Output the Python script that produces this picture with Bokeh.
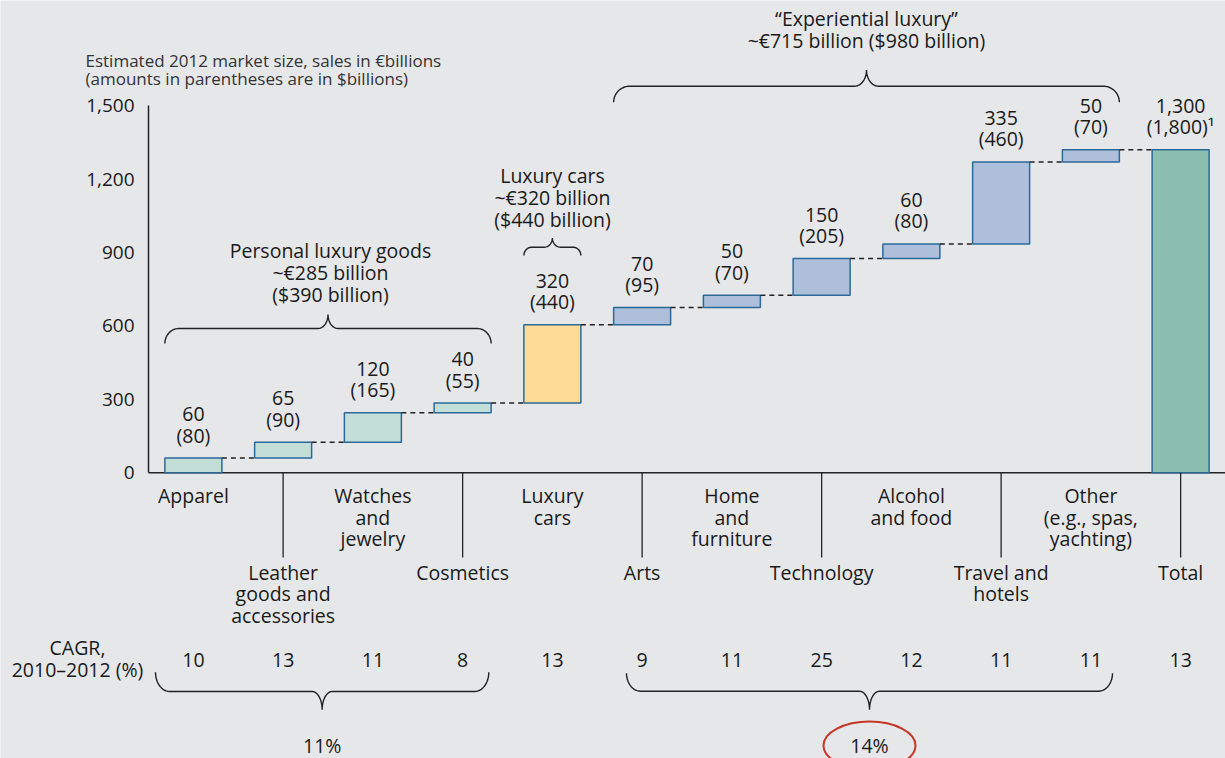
import numpy as np
from bokeh.plotting import figure
from bokeh.models import Range1d, FixedTicker, NumeralTickFormatter, ColumnDataSource
from bokeh.embed import file_html
from bokeh.resources import INLINE
from bokeh.core.properties import value

# ---------------- data ----------------
categories = ["Apparel", "Leather\ngoods and\naccessories", "Watches\nand\njewelry", "Cosmetics",
              "Luxury\ncars", "Arts", "Home\nand\nfurniture", "Technology", "Alcohol\nand food",
              "Travel and\nhotels", "Other\n(e.g., spas,\nyachting)", "Total"]
segments = ["personal"] * 4 + ["cars"] + ["experiential"] * 6 + ["total"]
sales_eur = [60, 65, 120, 40, 320, 70, 50, 150, 60, 335, 50]
sales_usd = [80, 90, 165, 55, 440, 95, 70, 205, 80, 460, 70]
total_eur_label = "1,300"
total_usd_label = "(1,800)\u00b9"
cagr = [10, 13, 11, 8, 13, 9, 11, 25, 12, 11, 11, 13]
cagr_groups = ["11%", "14%"]
y_ticks = [0, 300, 600, 900, 1200, 1500]
group_titles = [
    ["Personal luxury goods", "~€285 billion", "($390 billion)"],
    ["Luxury cars", "~€320 billion", "($440 billion)"],
    ["\u201cExperiential luxury\u201d", "~€715 billion ($980 billion)"],
]
header_lines = ["Estimated 2012 market size, sales in €billions",
                "(amounts in parentheses are in $billions)"]
cagr_title = ["CAGR,", "2010\u20132012 (%)"]

# ---------------- style / geometry ----------------
BG = "#e6e7e9"
TXT = "#1a1a1a"
FONT = "Open Sans"
FS = "19.5px"
OUTLINE = "#2a6a9b"
COLORS = {"personal": "#c3ded6", "cars": "#fedc96", "experiential": "#adbfdb", "total": "#8cbfb0"}
BAR_W = 0.635

FIG_W, FIG_H = 1225, 758
SX0 = 148.0                    # screen x where the category axis starts
PITCH = (FIG_W - SX0) / len(categories)
Y0 = 472.3                     # screen y of value 0
PX = 0.2448                    # px per unit


def xd(sx):
    return (sx - SX0) / PITCH


def yd(sy):
    return (Y0 - sy) / PX


p = figure(width=FIG_W, height=FIG_H,
           x_range=Range1d(xd(0), xd(FIG_W)), y_range=Range1d(yd(FIG_H), yd(0)),
           output_backend="svg", toolbar_location=None, x_axis_location=None,
           min_border=0, min_border_left=0, min_border_right=0,
           min_border_top=0, min_border_bottom=0)
p.background_fill_color = BG
p.border_fill_color = BG
p.outline_line_color = None
p.grid.visible = False

ax = p.yaxis[0]
ax.fixed_location = 0
ax.ticker = FixedTicker(ticks=y_ticks)
ax.formatter = NumeralTickFormatter(format="0,0")
ax.bounds = (y_ticks[0], y_ticks[-1])
ax.major_tick_out = 0
ax.major_tick_in = 0
ax.minor_tick_out = 0
ax.minor_tick_in = 0
ax.major_label_standoff = 14
ax.axis_line_color = "#222222"
ax.axis_line_width = 1.5
ax.major_label_text_font = FONT
ax.major_label_text_font_size = "19px"
ax.major_label_text_color = TXT

# ---------------- waterfall ----------------
xc = np.arange(len(categories)) + 0.5          # category centres on the x scale
tops = np.cumsum(sales_eur)
bottoms = tops - np.array(sales_eur)
bar_top = list(tops) + [tops[-1]]
bar_bottom = list(bottoms) + [0]
src = ColumnDataSource(dict(x=xc, top=bar_top, bottom=bar_bottom,
                            color=[COLORS[s] for s in segments]))
p.segment(x0=[0], y0=[0], x1=[len(categories)], y1=[0], line_color="#222222", line_width=1.5)
p.vbar(x="x", top="top", bottom="bottom", width=BAR_W, fill_color="color",
       line_color=OUTLINE, line_width=1.5, source=src)

idx = xc[:-1]
p.segment(x0=idx + BAR_W / 2, y0=tops, x1=idx + 1 - BAR_W / 2, y1=tops,
          line_color="#222222", line_width=1.5, line_dash="5 4")

eur_txt = [str(v) for v in sales_eur] + [total_eur_label]
usd_txt = ["(%d)" % v for v in sales_usd] + [total_usd_label]
tt = dict(text_font=value(FONT), text_font_size=FS, text_color=TXT,
          text_align="center", text_baseline="middle")
p.text(x=xc, y=[t + 44 / PX for t in bar_top], text=eur_txt, **tt)
p.text(x=xc, y=[t + 23 / PX for t in bar_top], text=usd_txt, **tt)

# ---------------- category labels & separators ----------------
seps = xc[1::2]
p.segment(x0=seps, y0=[0] * len(seps), x1=seps, y1=[yd(557)] * len(seps),
          line_color="#222222", line_width=1.3)
lx, ly, lt = [], [], []
for i, c in enumerate(categories):
    first = 495 if i % 2 == 0 else 571.7
    for k, line in enumerate(c.split("\n")):
        lx.append(xc[i])
        ly.append(yd(first + k * 21.5))
        lt.append(line)
p.text(x=lx, y=ly, text=lt, **tt)

# CAGR row
p.text(x=xc, y=[yd(659)] * len(categories), text=[str(v) for v in cagr], **tt)
p.text(x=[xd(77)] * 2, y=[yd(646.7), yd(669.3)], text=cagr_title, **tt)
p.text(x=[xd(85)] * 2, y=[yd(60), yd(78.3)], text=header_lines,
       text_font=value(FONT), text_font_size="17px", text_color="#333333",
       text_align="left", text_baseline="middle")


# ---------------- braces ----------------
def brace(xl, xr, y_tip, y_h, y_peak, r_end, r_mid, n=14):
    xm = (xl + xr) / 2
    t = np.linspace(0, np.pi / 2, n)
    px = np.concatenate([xl + r_end * (1 - np.cos(t)),
                         xm - r_mid + r_mid * np.sin(t),
                         xm + r_mid * (1 - np.cos(t)),
                         xr - r_end + r_end * np.sin(t)])
    py = np.concatenate([y_tip + (y_h - y_tip) * np.sin(t),
                         y_h + (y_peak - y_h) * (1 - np.cos(t)),
                         y_peak + (y_h - y_peak) * np.sin(t),
                         y_h + (y_tip - y_h) * (1 - np.cos(t))])
    return [xd(v) for v in px], [yd(v) for v in py]


def edge(i, side):
    return SX0 + (i + 0.5 + side * BAR_W / 2) * PITCH


braces = [
    brace(edge(0, -1), edge(3, 1), 343, 328, 314, 14, 10),
    brace(edge(4, -1), edge(4, 1), 255, 246.7, 237.5, 8, 8),
    brace(edge(5, -1), edge(10, 1), 101.8, 85.7, 69.6, 16, 12),
    brace(155, 488.3, 671.7, 691, 709.3, 14, 10),
    brace(626, 1112, 672.7, 690.7, 709.3, 14, 10),
]
p.multi_line(xs=[b[0] for b in braces], ys=[b[1] for b in braces],
             line_color="#222222", line_width=1.4)

# group titles
title_pos = [(330, 250), (552, 175), (866, 18)]
gx, gy, gt = [], [], []
for (cx, cy), lines in zip(title_pos, group_titles):
    for k, line in enumerate(lines):
        gx.append(xd(cx))
        gy.append(yd(cy + k * 22))
        gt.append(line)
p.text(x=gx, y=gy, text=gt, **tt)

# CAGR group values
p.text(x=[xd(321.7), xd(869)], y=[yd(745)] * 2, text=cagr_groups, **tt)
p.ellipse(x=[xd(869)], y=[yd(745)], width=92, height=48, width_units="screen",
          height_units="screen", fill_color=None, line_color="#c63727", line_width=2)

open("out.html", "w").write(file_html(p, INLINE))
